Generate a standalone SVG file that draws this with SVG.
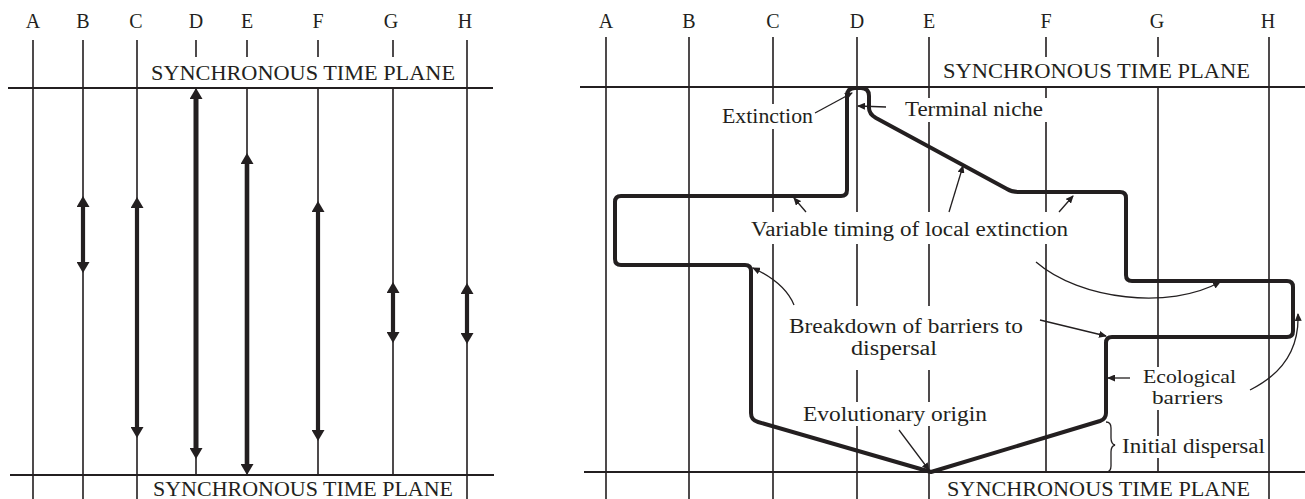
<svg xmlns="http://www.w3.org/2000/svg" width="1305" height="499" viewBox="0 0 1305 499">
<style>
  .bg{fill:#fff}
  .thin{stroke:#231f20;stroke-width:1.6;fill:none}
  .plane{stroke:#231f20;stroke-width:2.2;fill:none}
  .thick{stroke:#231f20;stroke-width:4.2;fill:none}
  .range{stroke:#231f20;stroke-width:4;fill:none;stroke-linejoin:round;stroke-linecap:round}
  .ptr{stroke:#231f20;stroke-width:1.3;fill:none}
  text{font-family:"Liberation Serif","Times New Roman",serif;fill:#231f20}
  .col{font-size:20px;text-anchor:middle}
  .pl{font-size:22px}
  .lb{font-size:20px}
  .lb2{font-size:19px}
</style>
<defs>
  <marker id="big" viewBox="0 0 11 13" refX="4" refY="6.5" markerWidth="11" markerHeight="13" markerUnits="userSpaceOnUse" orient="auto-start-reverse">
    <path d="M0,0 L11,6.5 L0,13 z" fill="#231f20"/>
  </marker>
  <marker id="sm" viewBox="0 0 8 7" refX="7" refY="3.5" markerWidth="8" markerHeight="7" markerUnits="userSpaceOnUse" orient="auto">
    <path d="M0,0 L8,3.5 L0,7 z" fill="#231f20"/>
  </marker>
</defs>

<g id="left-panel">
  <g id="left-grid">
    <path class="thin" d="M33,40V499 M83,40V499 M137,40V499 M467,40V499 M196,40V57 M247,40V57 M318,40V57 M393,40V57 M196,88V475 M247,88V475 M318,88V475 M393,88V475"/>
    <path class="plane" d="M8,88H493 M10,475H494"/>
  </g>
  <g id="left-labels">
    <text class="col" x="33" y="28">A</text>
    <text class="col" x="83" y="28">B</text>
    <text class="col" x="136" y="28">C</text>
    <text class="col" x="196" y="28">D</text>
    <text class="col" x="247" y="28">E</text>
    <text class="col" x="318" y="28">F</text>
    <text class="col" x="391" y="28">G</text>
    <text class="col" x="465" y="28">H</text>
    <text class="pl" x="151" y="80" textLength="304" lengthAdjust="spacingAndGlyphs">SYNCHRONOUS TIME PLANE</text>
    <text class="pl" x="153" y="496" textLength="300" lengthAdjust="spacingAndGlyphs">SYNCHRONOUS TIME PLANE</text>
  </g>
  <g id="left-ranges">
    <line class="thick" x1="83" y1="203" x2="83" y2="266" marker-start="url(#big)" marker-end="url(#big)"/>
    <line class="thick" x1="137" y1="204" x2="137" y2="431" marker-start="url(#big)" marker-end="url(#big)"/>
    <line class="thick" style="stroke-width:5" x1="196" y1="95" x2="196" y2="452" marker-start="url(#big)" marker-end="url(#big)"/>
    <line class="thick" style="stroke-width:4.6" x1="247" y1="160" x2="247" y2="468" marker-start="url(#big)" marker-end="url(#big)"/>
    <line class="thick" x1="318" y1="208" x2="318" y2="434" marker-start="url(#big)" marker-end="url(#big)"/>
    <line class="thick" x1="393" y1="289" x2="393" y2="336" marker-start="url(#big)" marker-end="url(#big)"/>
    <line class="thick" x1="467" y1="290" x2="467" y2="337" marker-start="url(#big)" marker-end="url(#big)"/>
  </g>
</g>

<g id="right-panel">
  <g id="right-grid">
    <path class="thin" d="M606,37V499 M689,37V499 M773,37V499 M857,37V499 M929,37V499 M1269,37V499 M1046,37V57 M1158,37V57 M1046,87V472 M1158,87V472"/>
    <path class="plane" d="M580,87H1305 M584,472H1305"/>
  </g>
  <g id="label-backgrounds">
    <rect class="bg" x="717" y="104" width="100" height="25"/>
    <rect class="bg" x="902" y="98" width="148" height="24"/>
    <rect class="bg" x="747" y="212" width="326" height="32"/>
    <rect class="bg" x="786" y="306" width="240" height="64"/>
    <rect class="bg" x="800" y="402" width="190" height="24"/>
    <rect class="bg" x="1138" y="367" width="102" height="43"/>
    <rect class="bg" x="1119" y="436" width="147" height="22"/>
  </g>
  <g id="right-labels">
    <text class="col" x="606" y="28">A</text>
    <text class="col" x="689" y="28">B</text>
    <text class="col" x="773" y="28">C</text>
    <text class="col" x="857" y="28">D</text>
    <text class="col" x="929" y="28">E</text>
    <text class="col" x="1046" y="28">F</text>
    <text class="col" x="1157" y="28">G</text>
    <text class="col" x="1268" y="28">H</text>
    <text class="pl" x="943" y="78" textLength="307" lengthAdjust="spacingAndGlyphs">SYNCHRONOUS TIME PLANE</text>
    <text class="pl" x="947" y="496" textLength="303" lengthAdjust="spacingAndGlyphs">SYNCHRONOUS TIME PLANE</text>
  </g>
  <g id="range-outline">
    <path class="range" d="M931,472 L1100,421 Q1106,419 1106,413 L1106,343 Q1106,337 1112,337 L1287,337 Q1293,337 1293,331 L1293,287 Q1293,281 1287,281 L1132,281 Q1126,281 1126,275 L1126,198 Q1126,192 1120,192 L1018,192 Q1012,192 1007,189 L876,118 Q869,114 869,108 L869,96 Q869,88 861,88 L855,88 Q847,88 847,96 L847,190 Q847,196 841,196 L621,196 Q615,196 615,202 L615,259 Q615,265 621,265 L745,265 Q751,265 751,271 L751,413 Q751,420 758,422 Z"/>
  </g>
  <g id="node-extinction">
    <text class="lb" x="722" y="123" textLength="91" lengthAdjust="spacingAndGlyphs">Extinction</text>
  </g>
  <g id="node-terminal-niche">
    <text class="lb" x="905" y="116" textLength="138" lengthAdjust="spacingAndGlyphs">Terminal niche</text>
  </g>
  <g id="node-variable-timing">
    <text class="lb" x="751" y="236" textLength="317" lengthAdjust="spacingAndGlyphs">Variable timing of local extinction</text>
  </g>
  <g id="node-breakdown">
    <text class="lb" x="789" y="333" textLength="234" lengthAdjust="spacingAndGlyphs">Breakdown of barriers to</text>
    <text class="lb" x="851" y="355" textLength="86" lengthAdjust="spacingAndGlyphs">dispersal</text>
  </g>
  <g id="node-ecological-barriers">
    <text class="lb2" x="1143" y="383" textLength="93" lengthAdjust="spacingAndGlyphs">Ecological</text>
    <text class="lb2" x="1152" y="404" textLength="71" lengthAdjust="spacingAndGlyphs">barriers</text>
  </g>
  <g id="node-initial-dispersal">
    <text class="lb" x="1122" y="453" textLength="143" lengthAdjust="spacingAndGlyphs">Initial dispersal</text>
  </g>
  <g id="node-evolutionary-origin">
    <text class="lb" x="803" y="421" textLength="184" lengthAdjust="spacingAndGlyphs">Evolutionary origin</text>
  </g>
  <g id="connectors">
    <path class="ptr" d="M815,113 L852,93" marker-end="url(#sm)"/>
    <path class="ptr" d="M886,107 L858,106" marker-end="url(#sm)"/>
    <path class="ptr" d="M806,212 L794,198" marker-end="url(#sm)"/>
    <path class="ptr" d="M949,212 L963,166" marker-end="url(#sm)"/>
    <path class="ptr" d="M1059,212 L1073,196" marker-end="url(#sm)"/>
    <path class="ptr" d="M1036,262 C1080,300 1170,310 1220,282" marker-end="url(#sm)"/>
    <path class="ptr" d="M794,305 Q785,283 753,268" marker-end="url(#sm)"/>
    <path class="ptr" d="M1040,320 L1106,336" marker-end="url(#sm)"/>
    <path class="ptr" d="M1130,378 L1108,378" marker-end="url(#sm)"/>
    <path class="ptr" d="M1250,390 Q1300,365 1298,314" marker-end="url(#sm)"/>
    <path class="ptr" d="M899,430 L929,470" marker-end="url(#sm)"/>
    <path class="ptr" d="M1106,422 Q1111,422 1111,428 L1111,438 Q1111,444 1115,445 Q1111,446 1111,452 L1111,466 Q1111,472 1106,472"/>
  </g>
</g>
</svg>
